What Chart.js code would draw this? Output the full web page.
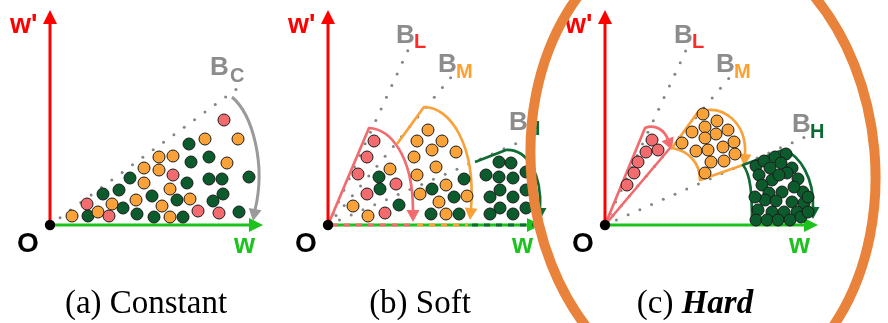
<!DOCTYPE html>
<html>
<head>
<meta charset="utf-8">
<script src="https://cdn.jsdelivr.net/npm/chart.js@4.4.1/dist/chart.umd.min.js"></script>
<style>
  html, body { margin: 0; padding: 0; background: #ffffff; overflow: hidden; }
  #wrap { position: relative; width: 888px; height: 323px; }
  canvas { display: block; }
</style>
</head>
<body>
<div id="wrap"><canvas id="chart" width="888" height="323"></canvas></div>
<script>
// ---- Panel captions -------------------------------------------------------
const captions = ['(a) Constant', '(b) Soft', '(c) Hard'];

// ---- Samples in the (w, w') plane, per panel and per class ----------------
// L = low (pink), M = medium (orange), H = high (green)
const constantL = [[174,105],[123,50],[37,21],[59,9],[148,14],[169,12]];
const constantM = [[155,86],[188,86],[177,62],[109,68],[123,69],[94,57],[109,55],[94,42],
                   [120,36],[86,25],[140,26],[62,21],[112,19],[48,13],[22,9],[120,8]];
const constantH = [[139,81],[159,68],[141,63],[80,47],[159,46],[172,46],[199,48],[137,42],
                   [53,31],[69,35],[102,29],[173,31],[127,25],[163,24],[73,17],[38,9],
                   [87,11],[189,13],[104,8],[133,8]];

const softL = [[46,84],[39,68],[30,51],[39,31],[68,41],[57,12]];
const softM = [[62,56],[25,19],[40,9],
               [100,95],[89,84],[114,84],[104,75],[128,73],[86,68],[108,58],[89,50],
               [118,40],[92,31],[111,23],[139,29],[118,11]];
const softH = [[51,48],[52,36],[71,20],
               [136,46],[104,36],[126,28],[131,11],[103,11],
               [171,63],[183,62],[158,50],[171,48],[185,47],[172,35],[162,28],[185,28],
               [172,17],[162,11],[185,11],[198,35],[198,53],[198,17]];

const hardL = [[47,85],[41,73],[53,75],[33,63],[29,52],[22,40]];
const hardM = [[98,111],[112,104],[100,98],[123,95],[87,93],[111,91],[100,87],[129,83],
               [77,82],[91,74],[103,75],[118,78],[130,71],[106,63],[119,64],[100,52]];
const hardH = [[151,59],[159,64],[170,68],[181,71],[176,62],[165,57],[154,50],[187,57],
               [167,45],[182,52],[193,46],[157,40],[177,33],[164,32],[198,33],[189,38],
               [160,25],[171,24],[199,22],[187,23],[153,15],[167,13],[179,13],[192,13],
               [151,5],[162,5],[173,5],[185,5],[196,8],[203,28],[174,50],[150,28],[203,13]];

// ---- Boundary rays from O (label, end point in the w-w' plane) ------------
const constantBounds = [['C', [188,137]]];
const softBounds     = [['L', [81,177]], ['M', [124,149]], ['H', [201,87]]];
const hardBounds     = [['L', [82,177]], ['M', [125,148]], ['H', [200,88]]];

// ---- Layout ---------------------------------------------------------------
const W = 888, H = 323;
const xIds = ['xa', 'xb', 'xc'];
const originPx = [[50,225],[328,225],[605,225]];   // where O sits in each panel
const groups = [[constantL, constantM, constantH], [softL, softM, softH], [hardL, hardM, hardH]];
const bounds = [constantBounds, softBounds, hardBounds];

const CLASS_COLORS = { L: '#F26B6E', M: '#F9A23A', H: '#0B5B2C' };
const SUB_COLORS   = { C: '#8C8C8C', L: '#FF2A2A', M: '#FFA02E', H: '#0B6A36' };
const OUTLINE      = { L: '#F26B6E', M: '#F9A23A', H: '#0E6B34', C: '#9A9A9A' };

const scales = { y: { type: 'linear', display: false, min: -(H - 225), max: 225 } };
xIds.forEach((id, i) => {
  scales[id] = { type: 'linear', axis: 'x', position: 'bottom', display: false,
                 min: -originPx[i][0], max: W - originPx[i][0] };
});

const datasets = [];
groups.forEach((g, i) => {
  ['L', 'M', 'H'].forEach((k, j) => {
    datasets.push({
      label: captions[i] + ' ' + k,
      data: g[j].map(([x, y]) => ({ x, y })),
      xAxisID: xIds[i], yAxisID: 'y',
      backgroundColor: CLASS_COLORS[k],
      borderColor: '#1a1a1a', borderWidth: 1,
      pointRadius: 6, pointHoverRadius: 6
    });
  });
});

// ---- Region outlines (with arrow tips), per panel --------------------------
const outlines = [
  [ { c: 'C', segs: [['M',182,128],['C',203,110,216,60,205,15]], tip: [203,4], from: [205,15] } ],
  [ { c: 'L', segs: [['M',0,0],['L',41,97],['C',62,96,85,70,85,14]], tip: [85,3], from: [85,14] },
    { c: 'M', segs: [['M',69,81],['L',96,118],['C',122,118,148,80,143,16]], tip: [142,5], from: [143,16] },
    { c: 'H', segs: [['M',147,63],['L',178,75],['C',200,76,214,50,212,16]], tip: [212,5], from: [212,16] } ],
  [ { c: 'L', segs: [['M',65,77],['L',0,0],['L',40,97],['C',50,101,60,95,63,85]], tip: [67,75], from: [63,85] },
    { c: 'M', segs: [['M',138,60],['L',95,45],['C',95,62,84,74,67,77],['L',93,113],['C',120,122,142,100,140,70]], tip: [139,59], from: [140,70] },
    { c: 'H', segs: [['M',147,2],['C',147,30,146,50,138,60],['L',178,75],['C',196,70,209,45,208,18]], tip: [208,6], from: [208,18] } ]
];

function P(chart, panel, w, v) {
  return [chart.scales[xIds[panel]].getPixelForValue(w), chart.scales.y.getPixelForValue(v)];
}

function arrowHead(ctx, tip, from, color, len, half) {
  const dx = tip[0] - from[0], dy = tip[1] - from[1];
  const d = Math.hypot(dx, dy) || 1, ux = dx / d, uy = dy / d;
  const bx = tip[0] - ux * len, by = tip[1] - uy * len;
  ctx.beginPath();
  ctx.moveTo(tip[0], tip[1]);
  ctx.lineTo(bx - uy * half, by + ux * half);
  ctx.lineTo(bx + uy * half, by - ux * half);
  ctx.closePath();
  ctx.fillStyle = color;
  ctx.fill();
}

function traceSegs(ctx, chart, panel, segs) {
  ctx.beginPath();
  for (const s of segs) {
    if (s[0] === 'M') ctx.moveTo(...P(chart, panel, s[1], s[2]));
    else if (s[0] === 'L') ctx.lineTo(...P(chart, panel, s[1], s[2]));
    else {
      const a = P(chart, panel, s[1], s[2]), b = P(chart, panel, s[3], s[4]), e = P(chart, panel, s[5], s[6]);
      ctx.bezierCurveTo(a[0], a[1], b[0], b[1], e[0], e[1]);
    }
  }
  ctx.stroke();
}

function drawAxes(ctx, chart, i) {
  const o = P(chart, i, 0, 0);
  ctx.lineCap = 'butt';
  // w' axis
  ctx.strokeStyle = '#FF0000'; ctx.lineWidth = 3;
  ctx.beginPath(); ctx.moveTo(o[0], o[1]); ctx.lineTo(...P(chart, i, 0, 203)); ctx.stroke();
  arrowHead(ctx, P(chart, i, 0, 215), P(chart, i, 0, 200), '#FF0000', 14, 7);
  // w axis
  ctx.strokeStyle = '#1EC21E'; ctx.lineWidth = 3;
  ctx.beginPath(); ctx.moveTo(o[0], o[1]); ctx.lineTo(...P(chart, i, 201, 0)); ctx.stroke();
  arrowHead(ctx, P(chart, i, 213, 0), P(chart, i, 200, 0), '#1EC21E', 14, 7);
  if (i === 1) {
    // soft split of the w axis: dashes in each class colour
    const parts = [['L', 0, 85], ['M', 85, 140], ['H', 140, 205]];
    ctx.setLineDash([6, 6]);
    for (const [k, a, b] of parts) {
      ctx.strokeStyle = OUTLINE[k];
      ctx.beginPath(); ctx.moveTo(...P(chart, i, a + 4, 0)); ctx.lineTo(...P(chart, i, b, 0)); ctx.stroke();
    }
    ctx.setLineDash([]);
  }
}

const diagramPlugin = {
  id: 'diagram',
  beforeDatasetsDraw(chart) {
    const ctx = chart.ctx;
    ctx.save();
    // dotted boundary rays
    bounds.forEach((list, i) => {
      for (const [, end] of list) {
        const o = P(chart, i, 0, 0), e = P(chart, i, end[0], end[1]);
        const d = Math.hypot(e[0] - o[0], e[1] - o[1]);
        const ux = (e[0] - o[0]) / d, uy = (e[1] - o[1]) / d;
        ctx.fillStyle = '#858585';
        for (let s = 12.5; s <= d + 0.5; s += 12.8) {
          ctx.beginPath(); ctx.arc(o[0] + ux * s, o[1] + uy * s, 1.5, 0, Math.PI * 2); ctx.fill();
        }
      }
    });
    // class regions
    outlines.forEach((list, i) => {
      for (const r of list) {
        ctx.strokeStyle = OUTLINE[r.c];
        ctx.lineWidth = r.c === 'C' ? 3 : 2.7;
        ctx.lineJoin = 'round'; ctx.lineCap = 'butt';
        traceSegs(ctx, chart, i, r.segs);
        arrowHead(ctx, P(chart, i, r.tip[0], r.tip[1]), P(chart, i, r.from[0], r.from[1]), OUTLINE[r.c], 12, 6.5);
      }
    });
    for (let i = 0; i < 3; i++) drawAxes(ctx, chart, i);
    ctx.restore();
  },
  afterDatasetsDraw(chart) {
    const ctx = chart.ctx;
    ctx.save();
    ctx.textBaseline = 'alphabetic'; ctx.textAlign = 'left';
    for (let i = 0; i < 3; i++) {
      // origin
      const o = P(chart, i, 0, 0);
      ctx.fillStyle = '#000';
      ctx.beginPath(); ctx.arc(o[0], o[1], 5.2, 0, Math.PI * 2); ctx.fill();
      // axis names
      ctx.font = 'bold 27px "Liberation Sans", Arial, sans-serif';
      ctx.fillStyle = '#FF0000';
      ctx.fillText("w'", ...P(chart, i, -40, 192));
      ctx.fillStyle = '#000';
      ctx.font = 'bold 28px "Liberation Sans", Arial, sans-serif';
      ctx.fillText('O', ...P(chart, i, -33, -27));
      ctx.fillStyle = '#1EC21E';
      ctx.font = 'bold 27px "Liberation Sans", Arial, sans-serif';
      ctx.fillText('w', ...P(chart, i, 184, -28));
    }
    // boundary labels
    const labelPos = [
      { C: [[160,150],[180,143]] },
      { L: [[68,182],[86,177]], M: [[110,153],[128,147]], H: [[181,95],[198,90]] },
      { L: [[69,182],[87,177]], M: [[111,153],[129,147]], H: [[187,93],[205,87]] }
    ];
    labelPos.forEach((set, i) => {
      for (const k of Object.keys(set)) {
        const [bp, sp] = set[k];
        ctx.fillStyle = '#8C8C8C';
        ctx.font = 'bold 26px "Liberation Sans", Arial, sans-serif';
        ctx.fillText('B', ...P(chart, i, bp[0], bp[1]));
        ctx.fillStyle = SUB_COLORS[k];
        ctx.font = 'bold 20px "Liberation Sans", Arial, sans-serif';
        ctx.fillText(k, ...P(chart, i, sp[0], sp[1]));
      }
    });
    // captions
    const capCenters = [146, 420, 695];
    const base = 313;
    const serif = '"Liberation Serif", "Times New Roman", serif';
    ctx.fillStyle = '#000';
    ctx.font = '33px ' + serif;
    ctx.textAlign = 'center';
    ctx.fillText(captions[0], capCenters[0], base);
    ctx.fillText(captions[1], capCenters[1], base);
    ctx.textAlign = 'left';
    const [pre, word] = [captions[2].slice(0, 4), captions[2].slice(4)];
    ctx.font = '33px ' + serif;
    const w1 = ctx.measureText(pre).width;
    ctx.font = 'italic bold 33px ' + serif;
    const w2 = ctx.measureText(word).width;
    const x0 = capCenters[2] - (w1 + w2) / 2;
    ctx.font = '33px ' + serif;
    ctx.fillText(pre, x0, base);
    ctx.font = 'italic bold 33px ' + serif;
    ctx.fillText(word, x0 + w1, base);
    // highlight ring round the hard split
    const c = P(chart, 2, 98, 60);
    ctx.strokeStyle = '#E9823A';
    ctx.lineWidth = 10;
    ctx.beginPath();
    ctx.ellipse(c[0], c[1], 172, 232, -0.09, 0, Math.PI * 2);
    ctx.stroke();
    ctx.restore();
  }
};

new Chart(document.getElementById('chart'), {
  type: 'scatter',
  data: { datasets },
  options: {
    responsive: false,
    animation: false,
    events: [],
    layout: { padding: 0, autoPadding: false },
    plugins: { legend: { display: false }, tooltip: { enabled: false }, title: { display: false } },
    scales
  },
  plugins: [diagramPlugin]
});
</script>
</body>
</html>
